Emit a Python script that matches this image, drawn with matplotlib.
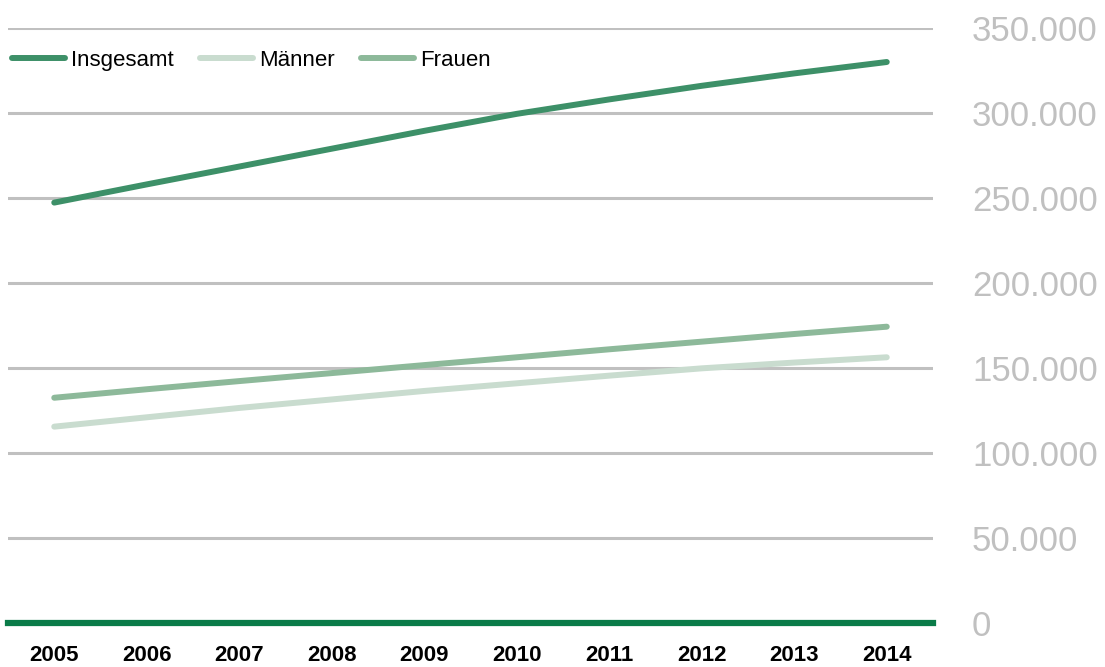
import numpy as np
import matplotlib.pyplot as plt
from matplotlib.ticker import FuncFormatter

years = ["2005", "2006", "2007", "2008", "2009", "2010", "2011", "2012", "2013", "2014"]
insgesamt = [247300, 258000, 268500, 279000, 289500, 299500, 308000, 316000, 323300, 330000]
maenner = [115500, 121000, 126500, 131500, 136500, 141000, 145500, 149800, 153200, 156300]
frauen = [132500, 137500, 142300, 147000, 151700, 156300, 161000, 165500, 170000, 174300]
yticks = [0, 50000, 100000, 150000, 200000, 250000, 300000, 350000]

plt.rcParams['font.family'] = ['Liberation Sans', 'DejaVu Sans']

fig = plt.figure(figsize=(11.05, 6.67), dpi=100)
ax = fig.add_axes([8/1105, 44/667, 925/1105, 595/667])

x = np.arange(len(years))
ax.plot(x, insgesamt, color="#3d9068", lw=4.3, solid_capstyle="round", label="Insgesamt", zorder=3)
ax.plot(x, maenner, color="#c9dccf", lw=4.3, solid_capstyle="round", label="Männer", zorder=3)
ax.plot(x, frauen, color="#8db99a", lw=4.3, solid_capstyle="round", label="Frauen", zorder=3)

ax.set_xlim(-0.5, len(years) - 0.5)
ax.set_ylim(0, 350000)
ax.set_yticks(yticks)
ax.yaxis.grid(True, color="#c0c0c0", lw=2.2)
ax.set_axisbelow(True)
for s in ["top", "left", "right"]:
    ax.spines[s].set_visible(False)
ax.spines["bottom"].set_color("#0a7b48")
ax.spines["bottom"].set_linewidth(4.5)
ax.spines["bottom"].set_zorder(4)

ax.yaxis.tick_right()
ax.yaxis.set_major_formatter(FuncFormatter(lambda v, p: f"{int(v):,}".replace(",", ".")))
ax.tick_params(axis="y", length=0, pad=28, labelsize=25, labelcolor="#c0c0c0")

ax.set_xticks(x)
ax.set_xticklabels(years, fontweight="bold", fontsize=16)
ax.tick_params(axis="x", length=0, pad=16)

leg = ax.legend(loc="center left", bbox_to_anchor=(4/925, 0.946), ncol=3, frameon=False,
                handlelength=2.39, handletextpad=0.27, columnspacing=1.17,
                borderaxespad=0, borderpad=0, fontsize=16)

fig.savefig("out.png", dpi=100)
